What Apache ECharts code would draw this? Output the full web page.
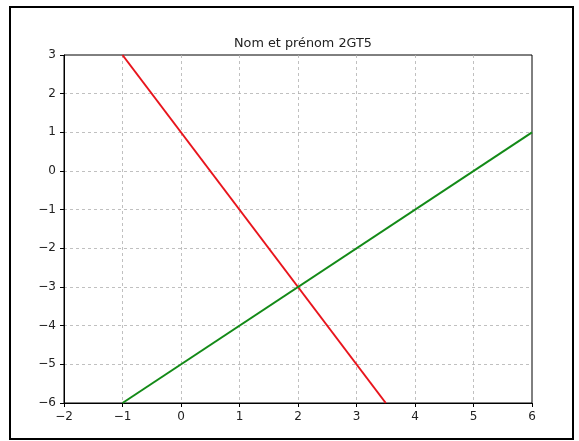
<!DOCTYPE html>
<html>
<head>
<meta charset="utf-8">
<script src="https://cdn.jsdelivr.net/npm/echarts@6/dist/echarts.min.js"></script>
<style>
html,body{margin:0;padding:0;background:#fff;}
#c{width:579px;height:441px;}
</style>
</head>
<body>
<div id="c"></div>
<script>
const titleText = "Nom et prénom 2GT5";
const xTicks = [-2, -1, 0, 1, 2, 3, 4, 5, 6];
const yTicks = [-6, -5, -4, -3, -2, -1, 0, 1, 2, 3];
const redX = [-1, 3.5];
const redY = [3, -6];
const greenX = [-1, 6];
const greenY = [-6, 1];

const font = "DejaVu Sans";
const fmt = v => String(v).replace('-', '\u2212');
const pairs = (xs, ys) => xs.map((x, i) => [x, ys[i]]);

const chart = echarts.init(document.getElementById('c'), null, {renderer: 'canvas'});
chart.setOption({
  animation: false,
  backgroundColor: '#fff',
  title: {
    text: titleText, left: 298, top: 32, textAlign: 'center',
    textStyle: {fontFamily: font, fontSize: 12.8, fontWeight: 'normal', color: '#222'}
  },
  grid: {left: 64, right: 47, top: 55, bottom: 38, show: true, borderColor: '#000', borderWidth: 1, backgroundColor: 'transparent'},
  graphic: [{
    type: 'rect', shape: {x: 10, y: 7, width: 563, height: 432},
    style: {fill: 'none', stroke: '#000', lineWidth: 2}, silent: true, z: 100
  }],
  xAxis: {
    type: 'value', min: xTicks[0], max: xTicks[xTicks.length - 1], interval: 1,
    axisLine: {show: true, onZero: false, lineStyle: {color: '#000', width: 1}},
    axisTick: {show: true, length: 4, lineStyle: {color: '#000'}},
    axisLabel: {formatter: fmt, fontFamily: font, fontSize: 12, color: '#222', margin: 8},
    splitLine: {show: true, showMinLine: false, showMaxLine: false, lineStyle: {color: '#b0b0b0', type: [3, 3], width: 0.8}}
  },
  yAxis: {
    type: 'value', min: yTicks[0], max: yTicks[yTicks.length - 1], interval: 1,
    axisLine: {show: true, onZero: false, lineStyle: {color: '#000', width: 1}},
    axisTick: {show: true, length: 4, lineStyle: {color: '#000'}},
    axisLabel: {formatter: fmt, fontFamily: font, fontSize: 12, color: '#222', margin: 8},
    splitLine: {show: true, showMinLine: false, showMaxLine: false, lineStyle: {color: '#b0b0b0', type: [3, 3], width: 0.8}}
  },
  series: [
    {type: 'line', data: pairs(redX, redY), showSymbol: false, lineStyle: {color: '#e8141c', width: 2}, z: 3},
    {type: 'line', data: pairs(greenX, greenY), showSymbol: false, lineStyle: {color: '#138a17', width: 2}, z: 3}
  ]
});
</script>
</body>
</html>
